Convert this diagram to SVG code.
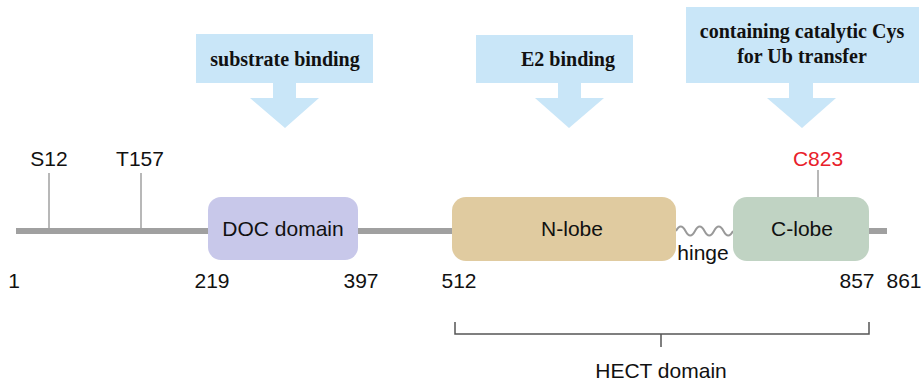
<svg xmlns="http://www.w3.org/2000/svg" width="922" height="385" viewBox="0 0 922 385">
  <style>
    .lbl { font-family: "Liberation Sans", Arial, sans-serif; font-size: 21px; fill: #111; }
    .call { font-family: "Liberation Serif", "Times New Roman", serif; font-size: 20px; font-weight: bold; fill: #111; }
    .callout { fill: #c9e6f8; }
    .tick { stroke: #a0a0a0; stroke-width: 1.5; fill: none; }
    .bracket { stroke: #555; stroke-width: 1.5; fill: none; }
  </style>
  <rect width="922" height="385" fill="#ffffff"/>

  <!-- callout arrows -->
  <g id="callout-substrate">
    <rect class="callout" x="196" y="34" width="177" height="49"/>
    <polygon class="callout" points="273,83 296,83 296,98 319,98 285,128 250,98 273,98"/>
    <text class="call" x="285" y="66" text-anchor="middle">substrate binding</text>
  </g>
  <g id="callout-e2">
    <rect class="callout" x="476" y="35" width="157" height="48"/>
    <polygon class="callout" points="558,83 581,83 581,98 604,98 569,128 535,98 558,98"/>
    <text class="call" x="568" y="66" text-anchor="middle">E2 binding</text>
  </g>
  <g id="callout-cys">
    <rect class="callout" x="686" y="7" width="233" height="76"/>
    <polygon class="callout" points="789,83 813,83 813,98 836,98 802,128 767,98 789,98"/>
    <text class="call" x="802" y="38" text-anchor="middle">containing catalytic Cys</text>
    <text class="call" x="802" y="63" text-anchor="middle">for Ub transfer</text>
  </g>

  <!-- backbone, site ticks and hinge -->
  <g id="connectors">
    <line x1="16" y1="231" x2="887" y2="231" stroke="#a0a0a0" stroke-width="6"/>
    <line class="tick" x1="49" y1="173" x2="49" y2="231"/>
    <line class="tick" x1="141" y1="173" x2="141" y2="231"/>
    <line class="tick" x1="818" y1="170" x2="818" y2="197"/>
    <rect x="676" y="222" width="57" height="18" fill="#ffffff"/>
    <path d="M676,231 q4.75,-9 9.5,0 t9.5,0 t9.5,0 t9.5,0 t9.5,0 t9.5,0" stroke="#999" stroke-width="2" fill="none"/>
    <path class="bracket" d="M455,322 V334 H869 V322 M661,334 V347"/>
  </g>

  <!-- domains -->
  <g id="doc-domain">
    <rect x="208" y="197" width="150" height="63" rx="13" fill="#c8c8ea"/>
    <text class="lbl" x="283" y="236" text-anchor="middle">DOC domain</text>
  </g>
  <g id="n-lobe">
    <rect x="452" y="197" width="224" height="64" rx="14" fill="#e0cba0"/>
    <text class="lbl" x="572" y="236" text-anchor="middle">N-lobe</text>
  </g>
  <g id="c-lobe">
    <rect x="733" y="197" width="136" height="64" rx="14" fill="#c0d3c3"/>
    <text class="lbl" x="802" y="236" text-anchor="middle">C-lobe</text>
  </g>

  <!-- labels -->
  <g id="labels">
    <text class="lbl" x="49" y="166" text-anchor="middle">S12</text>
    <text class="lbl" x="140" y="166" text-anchor="middle">T157</text>
    <text class="lbl" x="818" y="166" text-anchor="middle" style="fill:#e8202a">C823</text>
    <text class="lbl" x="703" y="260" text-anchor="middle">hinge</text>
    <text class="lbl" x="14" y="288" text-anchor="middle">1</text>
    <text class="lbl" x="212" y="288" text-anchor="middle">219</text>
    <text class="lbl" x="361" y="288" text-anchor="middle">397</text>
    <text class="lbl" x="459" y="288" text-anchor="middle">512</text>
    <text class="lbl" x="857" y="288" text-anchor="middle">857</text>
    <text class="lbl" x="904" y="288" text-anchor="middle">861</text>
    <text class="lbl" x="661" y="378" text-anchor="middle">HECT domain</text>
  </g>
</svg>
